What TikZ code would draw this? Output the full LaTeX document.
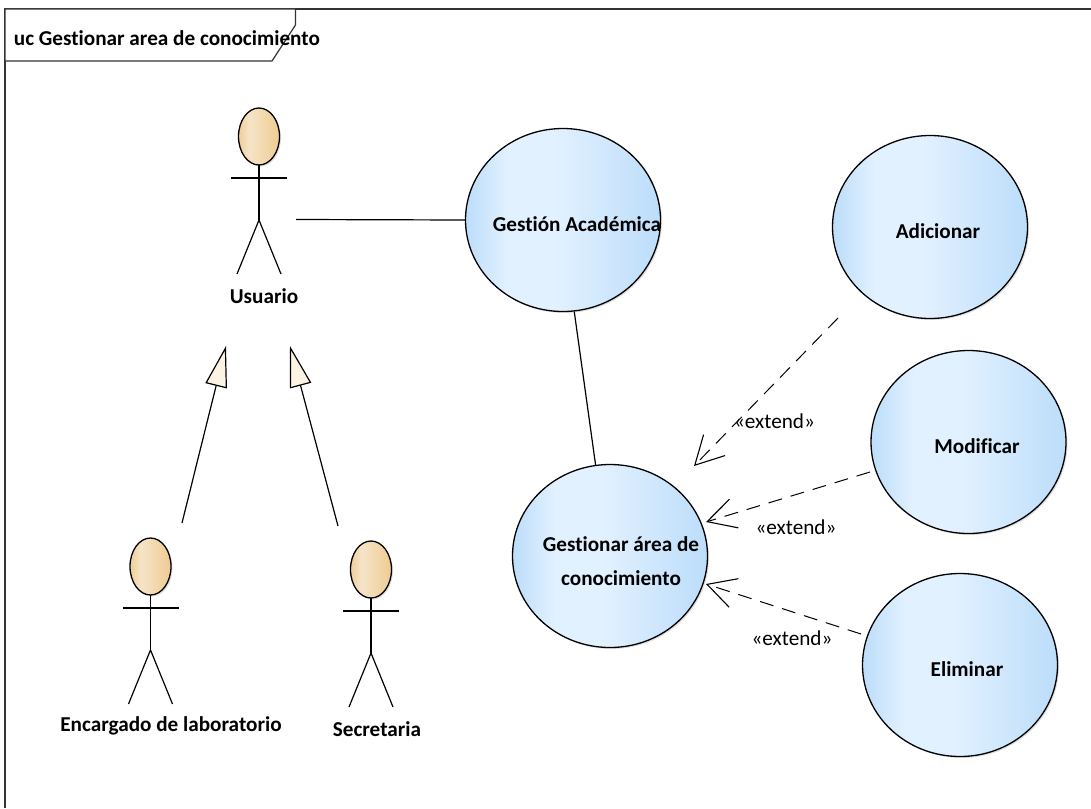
\documentclass[tikz,border=0pt]{standalone}
\usepackage{fontspec}
\setmainfont[Ligatures=NoCommon]{Carlito}
\usetikzlibrary{arrows.meta,shapes.geometric,shadows}
\definecolor{ucblue}{RGB}{188,221,250}
\definecolor{uclight}{RGB}{226,241,255}
\definecolor{skinc}{RGB}{240,205,150}
\definecolor{skinl}{RGB}{245,228,200}
\definecolor{tipc}{RGB}{253,243,226}
\pgfdeclarehorizontalshading{ucshade}{100bp}{color(0bp)=(ucblue); color(25bp)=(ucblue); color(36bp)=(uclight); color(48bp)=(uclight); color(75bp)=(ucblue); color(100bp)=(ucblue)}
\pgfdeclarehorizontalshading{skinshade}{100bp}{color(0bp)=(skinc); color(25bp)=(skinc); color(38bp)=(skinl); color(72bp)=(skinc); color(100bp)=(skinc)}
\tikzset{
	usecase/.style = {ellipse, draw, line width = 1.3pt, minimum width = 195pt, minimum height = 183pt, inner sep = 0pt,
		shading = ucshade, drop shadow = {opacity = 0.25, shadow xshift = 1.5pt, shadow yshift = -1.5pt}},
	actorhead/.style = {ellipse, draw, line width = 1.3pt, minimum width = 41pt, minimum height = 57pt, inner sep = 0pt,
		shading = skinshade, drop shadow = {opacity = 0.25, shadow xshift = 1.5pt, shadow yshift = -1.5pt}},
	title/.style = {font = \bfseries\fontsize{21.2}{25}\selectfont},
	ext/.style = {font = \fontsize{21.2}{25}\selectfont},
	extarrow/.style = {line width = 1pt, dash pattern = on 14pt off 9pt, -{Straight Barb[length = 28pt, width = 30pt, line width = 1.1pt]}},
	genarrow/.style = {line width = 1.2pt, -{Triangle[open, length = 41pt, width = 22pt, fill = tipc]}}
}
\begin{document}
\begin{tikzpicture}[x = 1pt, y = -1pt, line width = 1.2pt]
	\useasboundingbox (0,0) rectangle (1091,808);
	% frame
	\draw [black!80] (5,808) -- (5,9) -- (1091,9);
	\draw [black!80, fill = white] (5,9) -- (295.5,9) -- (295.5,25) -- (272,61) -- (5,61) -- cycle;
	\node (frametitle) [title, anchor = west] at (10,38) {uc Gestionar area de conocimiento};
	% actors
	\foreach \name/\x/\y in {user/259/108, lab/150.5/538, sec/371/541}{
		\node (\name) [actorhead] at (\x,\y+28.5) {};
		\draw (\x,\y+57) -- +(0,55);
		\draw (\x-28,\y+70) -- +(56,0);
		\draw (\x-22,\y+166) -- (\x,\y+112) -- (\x+22,\y+166);
	}
	\node (userlabel) [title] at (264,296) {Usuario};
	\node (lablabel) [title] at (171,726) {Encargado de laboratorio};
	\node (seclabel) [title] at (377,729) {Secretaria};
	% use cases
	\node (gestion) [usecase] at (563,220) {};
	\node (adicionar) [usecase] at (930,227) {};
	\node (modificar) [usecase] at (968.5,442) {};
	\node (eliminar) [usecase] at (960,665) {};
	\node (area) [usecase] at (610,556) {};
	\node (gestionlabel) [title] at (577,224) {Gestión Académica};
	\node (adicionarlabel) [title] at (938,231) {Adicionar};
	\node (modificarlabel) [title] at (977,446) {Modificar};
	\node (eliminarlabel) [title] at (967,669) {Eliminar};
	\node (arealabel) [title, align = center] at (621,561) {Gestionar área de\\[9pt]conocimiento};
	% free ends
	\coordinate (userend) at (296,219.5);
	\coordinate (labtop) at (182,523);
	\coordinate (labtip) at (226,346);
	\coordinate (sectop) at (338,526);
	\coordinate (sectip) at (290,346);
	\coordinate (adstart) at (838,318);
	\coordinate (adend) at (694,466);
	\coordinate (modstart) at (870,472);
	\coordinate (modend) at (706,522);
	\coordinate (elstart) at (861,634);
	\coordinate (elend) at (706,584);
	% connectors
	\draw (userend) -- (gestion.west);
	\draw (gestion.-83) -- (area.99);
	\draw [genarrow] (labtop) -- (labtip);
	\draw [genarrow] (sectop) -- (sectip);
	\draw [extarrow] (adstart) -- (adend);
	\draw [extarrow] (modstart) -- (modend);
	\draw [extarrow] (elstart) -- (elend);
	\node (extad) [ext] at (774.5,421) {«extend»};
	\node (extmod) [ext] at (796,527) {«extend»};
	\node (extel) [ext] at (792,638) {«extend»};
\end{tikzpicture}
\end{document}
